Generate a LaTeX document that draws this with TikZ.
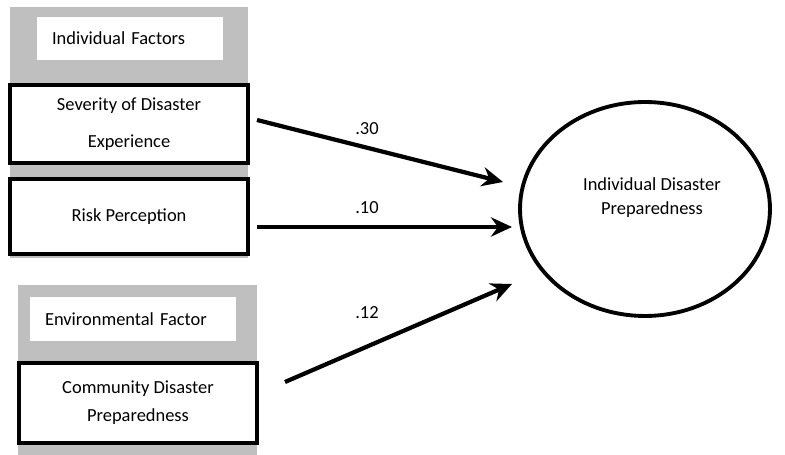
\documentclass[tikz,border=0pt]{standalone}
\usepackage{fontspec}
\setmainfont{Carlito}
\usetikzlibrary{arrows.meta,shapes.geometric}

\begin{document}
\begin{tikzpicture}[x=0.02cm, y=-0.02cm, font=\fontsize{10.5}{14}\selectfont,
    panel/.style={fill=black!25},
    heading/.style={fill=white, text width=#1, inner xsep=0.3cm, inner ysep=0pt, align=left},
    factor/.style={draw, line width=2.4pt, fill=white, align=center, minimum width=4.75cm},
    effect/.style={line width=2.4pt, -{Stealth[length=12pt, width=11pt, inset=4pt]}}]
    \useasboundingbox (0, 0) rectangle (785, 455);
        \fill[panel] (10, 7) rectangle (248, 258);
        \fill[panel] (18, 285) rectangle (257, 455);
        \node[heading=3.12cm, minimum height=0.86cm] (indhead) at (130, 38.5) {Individual Factors};
        \node[heading=3.52cm, minimum height=0.88cm] (envhead) at (133, 319) {Environmental Factor};
        \node[factor, minimum height=1.55cm] (sev) at (129, 124) {Severity of Disaster\\[7pt]Experience};
        \node[factor, minimum height=1.5cm] (risk) at (129, 216.5) {Risk Perception};
        \node[factor, minimum height=1.6cm] (comm) at (138, 403) {Community Disaster\\[2pt]Preparedness};
        \node[draw, ellipse, line width=2.2pt, minimum width=5cm, minimum height=4.28cm] (idp) at (645, 209) {};
        \node[align=center] (idptext) at (652, 197.5) {Individual Disaster\\Preparedness};
        \coordinate (s1) at (257, 120);
        \coordinate (e1) at (503, 182);
        \coordinate (s2) at (257, 227);
        \coordinate (e2) at (512, 227);
        \coordinate (s3) at (285, 382);
        \coordinate (e3) at (512, 284);
        \draw[effect] (s1) -- (e1);
        \draw[effect] (s2) -- (e2);
        \draw[effect] (s3) -- (e3);
        \node (w1) at (367, 129) {.30};
        \node (w2) at (367, 208) {.10};
        \node (w3) at (367, 313) {.12};
    \end{tikzpicture}
\end{document}
